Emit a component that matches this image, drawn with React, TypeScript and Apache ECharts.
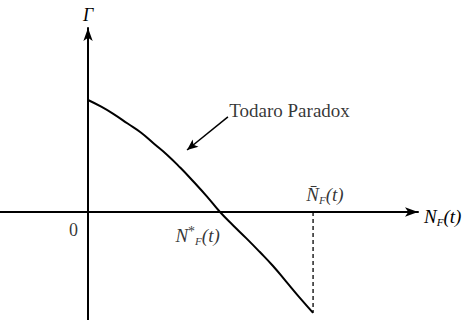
import React, { useEffect, useRef } from "react";
import * as echarts from "echarts";

// Curve Γ(N_F) in data units (x: N_F, y: Γ)
const curveX = [0, 0.1, 0.2, 0.3, 0.4, 0.5, 0.6, 0.7, 0.8, 0.9, 1.0, 1.1, 1.2, 1.3, 1.4, 1.5, 1.6, 1.705];
const curveY = [1.0, 0.94, 0.87, 0.79, 0.71, 0.61, 0.51, 0.395, 0.27, 0.14, 0, -0.12, -0.235, -0.355, -0.48, -0.62, -0.76, -0.9];

// Key values on the N_F axis
const nBar = 1.705;
const nBarGamma = -0.9;

// Todaro Paradox pointer (from -> to)
const pointerFrom = [1.06, 0.85];
const pointerTo = [0.75, 0.554];

// Annotation labels and anchors
const labelTexts = ["0", "{n|N}{sup|*}{sub|F}{n|(t)}", "{n|N\u0304}{sub|F}{n|(t)}", "Todaro Paradox"];
const labelAnchors = [
  [-0.11, -0.16],
  [0.83, -0.21],
  [1.795, 0.155],
  [1.07, 0.905],
];

const xName = "{n|N}{sub|F}{n|(t)}";
const yName = "Γ";

const SERIF = "Liberation Serif, serif";

const richStyles = {
  n: { fontFamily: SERIF, fontStyle: "italic", fontSize: 19, lineHeight: 22, color: "#000" },
  sub: { fontFamily: SERIF, fontStyle: "italic", fontSize: 11, lineHeight: 12, verticalAlign: "bottom", color: "#000" },
  sup: { fontFamily: SERIF, fontSize: 14, lineHeight: 12, verticalAlign: "top", color: "#000" },
};

export default function App() {
  const ref = useRef<HTMLDivElement>(null);
  useEffect(() => {
    document.body.style.margin = "0";
    if (!ref.current) return;
    const chart = echarts.init(ref.current, null, { renderer: "svg" });
    const axisCommon = {
      type: "value" as const,
      axisTick: { show: false },
      axisLabel: { show: false },
      splitLine: { show: false },
    };
    chart.setOption({
      animation: false,
      backgroundColor: "#fff",
      textStyle: { fontFamily: SERIF },
      grid: { left: 0, top: 28, width: 418, height: 292 },
      xAxis: {
        ...axisCommon,
        min: -0.667,
        max: 2.5,
        name: xName,
        nameLocation: "end",
        nameGap: 6,
        nameTextStyle: { fontFamily: SERIF, rich: richStyles, align: "left", verticalAlign: "middle", padding: [8, 0, 0, 0] },
        axisLine: {
          show: true,
          onZero: true,
          symbol: ["none", "arrow"],
          symbolSize: [7, 13],
          lineStyle: { color: "#000", width: 2 },
        },
      },
      yAxis: {
        ...axisCommon,
        min: -0.964,
        max: 1.643,
        name: yName,
        nameLocation: "end",
        nameGap: 4,
        nameTextStyle: {
          fontFamily: SERIF,
          fontStyle: "italic",
          fontSize: 18,
          color: "#000",
          align: "center",
          verticalAlign: "bottom",
        },
        axisLine: {
          show: true,
          onZero: true,
          symbol: ["none", "arrow"],
          symbolSize: [7, 13],
          lineStyle: { color: "#000", width: 2 },
        },
      },
      series: [
        {
          type: "line",
          data: curveX.map((x, i) => [x, curveY[i]]),
          smooth: true,
          showSymbol: false,
          lineStyle: { color: "#000", width: 2 },
          markLine: {
            silent: true,
            animation: false,
            label: { show: false },
            lineStyle: { color: "#000", width: 1.5, type: "solid" },
            symbolSize: [7, 11],
            data: [
              [
                { coord: pointerFrom, symbol: "none" },
                { coord: pointerTo, symbol: "arrow" },
              ],
            ],
          },
        },
        {
          type: "line",
          data: [
            [nBar, 0],
            [nBar, nBarGamma],
          ],
          showSymbol: false,
          lineStyle: { color: "#000", width: 1.3, type: [4, 3] },
        },
        {
          type: "scatter",
          symbolSize: 0,
          data: labelAnchors.map((p, i) => ({
            value: p,
            label: {
              show: true,
              position: "inside",
              formatter: labelTexts[i],
              align: i === 3 ? "left" : "center",
              verticalAlign: "middle",
              fontFamily: SERIF,
              fontSize: i === 0 ? 18 : 19,
              color: "#000",
              rich: richStyles,
            },
          })),
        },
      ],
    });
    return () => chart.dispose();
  }, []);
  return <div ref={ref} style={{ width: 473, height: 320 }} />;
}
